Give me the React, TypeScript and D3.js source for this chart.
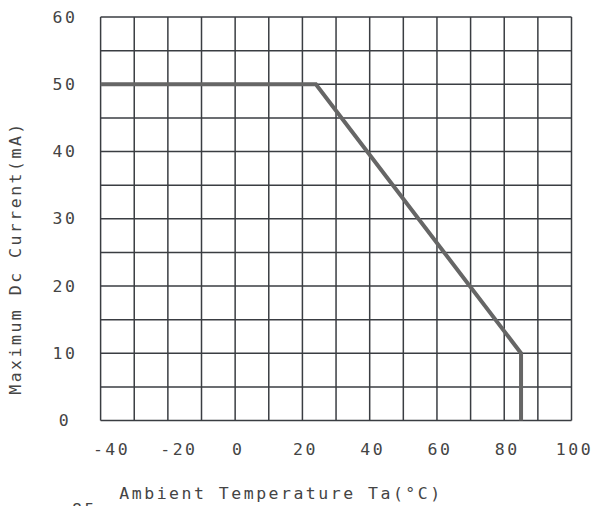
import React from "react";
import * as d3 from "d3";

const xTickLabels = [-40, -20, 0, 20, 40, 60, 80, 100];
const yTickLabels = [0, 10, 20, 30, 40, 50, 60];
const xGrid = [-40, -30, -20, -10, 0, 10, 20, 30, 40, 50, 60, 70, 80, 90, 100];
const yGrid = [0, 5, 10, 15, 20, 25, 30, 35, 40, 45, 50, 55, 60];
const temperatureC = [-40, 24, 85, 85];
const currentMA = [50, 50, 10, 0];

const W = 593;
const H = 506;
const FONT = "'DejaVu Sans Mono', 'Liberation Mono', monospace";

export default function App() {
  const x = d3.scaleLinear().domain([-40, 100]).range([100.6, 571.5]);
  const y = d3.scaleLinear().domain([0, 60]).range([420.5, 17]);
  const pts = temperatureC.map((t, i) => [t, currentMA[i]] as [number, number]);
  const line = d3
    .line<[number, number]>()
    .x((d) => x(d[0]))
    .y((d) => y(d[1]));

  const textStyle = {
    fontFamily: FONT,
    fontSize: 16.5,
    letterSpacing: 2.5,
    fill: "#444",
  } as React.CSSProperties;

  return (
    <svg
      width={W}
      height={H}
      style={{ position: "absolute", left: 0, top: 0, background: "#fff" }}
    >
      <g stroke="#3a3d42" strokeWidth={1.5}>
        {xGrid.map((v) => (
          <line key={"x" + v} x1={x(v)} x2={x(v)} y1={y(0)} y2={y(60)} />
        ))}
        {yGrid.map((v) => (
          <line key={"y" + v} x1={x(-40)} x2={x(100)} y1={y(v)} y2={y(v)} />
        ))}
      </g>
      <path
        d={line(pts) || ""}
        fill="none"
        stroke="#666"
        strokeWidth={4}
        strokeLinejoin="miter"
      />
      {yTickLabels.map((v) => (
        <text
          key={"yl" + v}
          x={65}
          y={y(v)}
          textAnchor="middle"
          dominantBaseline="central"
          style={textStyle}
        >
          {v}
        </text>
      ))}
      {xTickLabels.map((v) => (
        <text
          key={"xl" + v}
          x={x(v) + (v < 0 ? 11 : 3)}
          y={455}
          textAnchor="middle"
          style={textStyle}
        >
          {v < 0 ? "-" + Math.abs(v) : String(v)}
        </text>
      ))}
      <text x={281} y={499} textAnchor="middle" style={textStyle}>
        Ambient Temperature Ta(°C)
      </text>
      <text
        transform="translate(21,258) rotate(-90)"
        textAnchor="middle"
        style={textStyle}
      >
        Maximum Dc Current(mA)
      </text>
      <text x={72} y={515} style={textStyle}>
        85
      </text>
    </svg>
  );
}
